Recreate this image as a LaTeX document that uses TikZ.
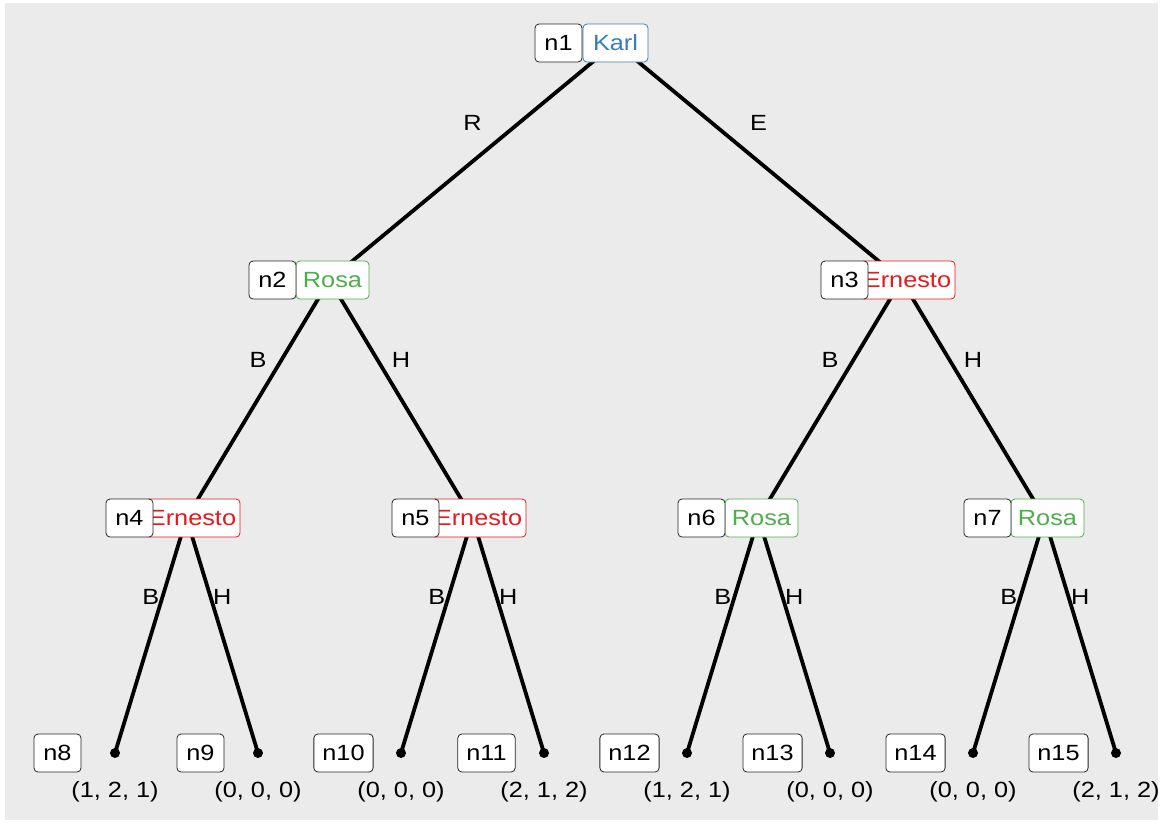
\documentclass[tikz,border=0pt]{standalone}
\usepackage{fontspec}
\setmainfont{Liberation Sans}[FakeStretch=1.15]
\definecolor{panel}{HTML}{EBEBEB}
\definecolor{kblue}{HTML}{377EB8}
\definecolor{rgreen}{HTML}{4DAF4A}
\definecolor{ered}{HTML}{E41A1C}
\begin{document}
\begin{tikzpicture}[x=1pt,y=-1pt,
  font=\fontsize{22}{26}\selectfont,
  idbox/.style={draw=black!85, fill=white, rounded corners=4pt, line width=0.8pt, minimum width=47pt, minimum height=38pt, inner xsep=8.5pt, inner ysep=0pt},
  valbox/.style={draw=#1, text=#1, fill=white, rounded corners=4pt, line width=0.8pt, minimum height=38pt, inner sep=0pt},
  treeedge/.style={line width=3.8pt},
  elab/.style={inner sep=0pt, yshift=39pt},
  leafdot/.style={circle, fill=black, inner sep=0pt, minimum size=10pt},
  pay/.style={inner sep=0pt}]
\useasboundingbox (0,0) rectangle (1163,823);
\fill[panel] (5,3) rectangle (1158,820);
% node points
\coordinate (n1) at (615.5,43);
\coordinate (n2) at (329.5,280);
\coordinate (n3) at (901.5,280);
\coordinate (n4) at (186.5,518);
\coordinate (n5) at (472.5,518);
\coordinate (n6) at (758.5,518);
\coordinate (n7) at (1044.5,518);
\node[leafdot] (n8) at (115,753) {};
\node[leafdot] (n9) at (258,753) {};
\node[leafdot] (n10) at (401,753) {};
\node[leafdot] (n11) at (544,753) {};
\node[leafdot] (n12) at (687,753) {};
\node[leafdot] (n13) at (830,753) {};
\node[leafdot] (n14) at (973,753) {};
\node[leafdot] (n15) at (1116,753) {};
% edges
\draw[treeedge] (n1) -- (n2) node[midway, elab] {R};
\draw[treeedge] (n1) -- (n3) node[midway, elab] {E};
\draw[treeedge] (n2) -- (n4) node[midway, elab] {B};
\draw[treeedge] (n2) -- (n5) node[midway, elab] {H};
\draw[treeedge] (n3) -- (n6) node[midway, elab] {B};
\draw[treeedge] (n3) -- (n7) node[midway, elab] {H};
\draw[treeedge] (n4) -- (n8.center) node[midway, elab] {B};
\draw[treeedge] (n4) -- (n9.center) node[midway, elab] {H};
\draw[treeedge] (n5) -- (n10.center) node[midway, elab] {B};
\draw[treeedge] (n5) -- (n11.center) node[midway, elab] {H};
\draw[treeedge] (n6) -- (n12.center) node[midway, elab] {B};
\draw[treeedge] (n6) -- (n13.center) node[midway, elab] {H};
\draw[treeedge] (n7) -- (n14.center) node[midway, elab] {B};
\draw[treeedge] (n7) -- (n15.center) node[midway, elab] {H};
% value boxes
\node[valbox=kblue, minimum width=65pt] (v1) at ([xshift=0pt]n1) {Karl};
\node[valbox=rgreen, minimum width=73pt] (v2) at ([xshift=3pt]n2) {Rosa};
\node[valbox=ered, minimum width=95pt] (v3) at ([xshift=6pt]n3) {Ernesto};
\node[valbox=ered, minimum width=95pt] (v4) at ([xshift=6pt]n4) {Ernesto};
\node[valbox=ered, minimum width=95pt] (v5) at ([xshift=6pt]n5) {Ernesto};
\node[valbox=rgreen, minimum width=73pt] (v6) at ([xshift=3pt]n6) {Rosa};
\node[valbox=rgreen, minimum width=73pt] (v7) at ([xshift=3pt]n7) {Rosa};
% id boxes
\foreach \i in {1,...,7} {
  \node[idbox] (b\i) at ([xshift=-57pt]n\i) {n\i};
}
\foreach \i in {8,...,15} {
  \node[idbox] (b\i) at ([xshift=-57.5pt]n\i.center) {n\i};
}
% payoffs
\node[pay] (p8) at ([yshift=-39pt]n8.center) {(1, 2, 1)};
\node[pay] (p9) at ([yshift=-39pt]n9.center) {(0, 0, 0)};
\node[pay] (p10) at ([yshift=-39pt]n10.center) {(0, 0, 0)};
\node[pay] (p11) at ([yshift=-39pt]n11.center) {(2, 1, 2)};
\node[pay] (p12) at ([yshift=-39pt]n12.center) {(1, 2, 1)};
\node[pay] (p13) at ([yshift=-39pt]n13.center) {(0, 0, 0)};
\node[pay] (p14) at ([yshift=-39pt]n14.center) {(0, 0, 0)};
\node[pay] (p15) at ([yshift=-39pt]n15.center) {(2, 1, 2)};
\end{tikzpicture}
\end{document}
